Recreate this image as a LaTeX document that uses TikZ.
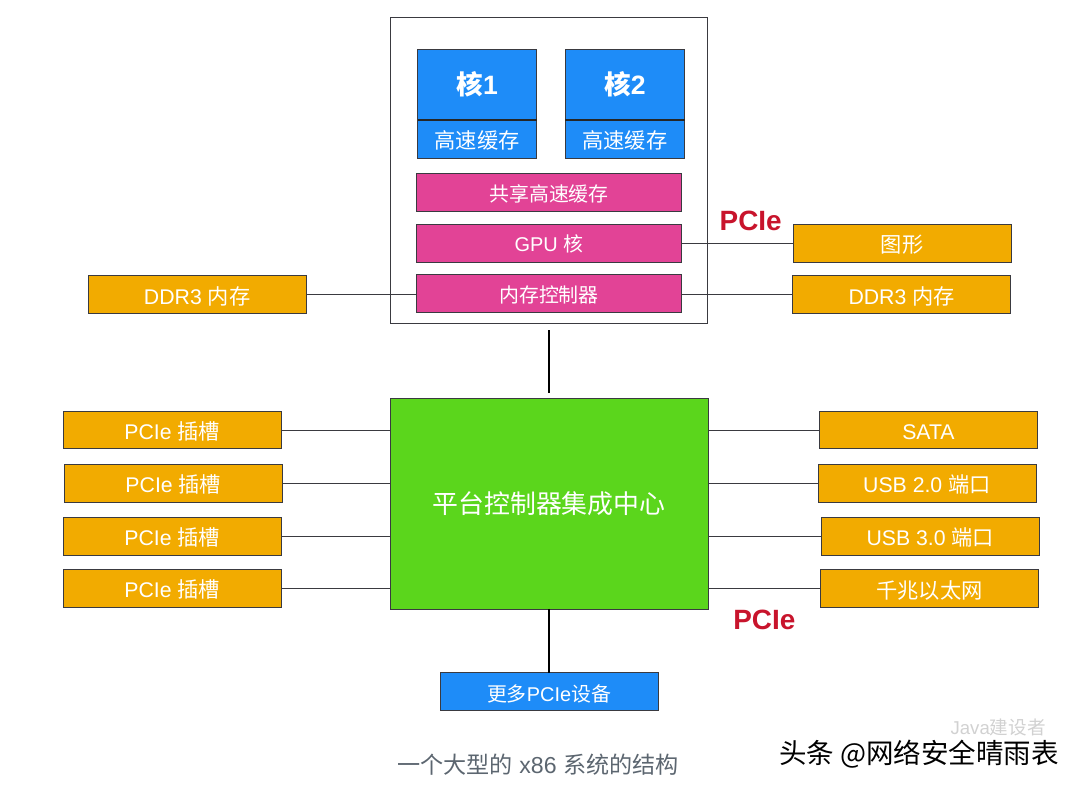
\documentclass[tikz,border=0pt]{standalone}
\usepackage{fontspec}
\setmainfont{Liberation Sans}
\newfontfamily\cjk{Noto Sans CJK SC}
\usetikzlibrary{positioning}
\definecolor{coreblue}{HTML}{1E8CF8}
\definecolor{sharepink}{HTML}{E24396}
\definecolor{portorange}{HTML}{F2AB00}
\definecolor{hubgreen}{HTML}{5BD61C}
\definecolor{edgedark}{HTML}{3A3A40}
\definecolor{capgray}{HTML}{5C6670}
\definecolor{pcired}{HTML}{C8142C}
\tikzstyle{box} = [rectangle, draw = edgedark, line width=0.6pt, inner sep=0pt, outer sep=0pt, text=white, text centered]
\tikzstyle{corebox} = [box, fill=coreblue, minimum width=3.15cm, minimum height=1.85cm, font=\fontsize{20}{22}\selectfont\bfseries]
\tikzstyle{cachebox} = [box, fill=coreblue, minimum width=3.15cm, minimum height=1.03cm, text height=14.5pt, text depth=0pt, font=\fontsize{16}{18}\selectfont]
\tikzstyle{sharebox} = [box, fill=sharepink, minimum width=7.01cm, minimum height=1.005cm, text height=13.1pt, text depth=0pt, font=\fontsize{15}{17}\selectfont]
\tikzstyle{portbox} = [box, fill=portorange, minimum width=5.77cm, minimum height=1.005cm, text height=14.5pt, text depth=0pt, font=\fontsize{16}{18}\selectfont]
\tikzstyle{link} = [edgedark, line width=0.6pt]
\tikzstyle{bus} = [black, line width=1.5pt]
\tikzstyle{split} = [black!85, line width=1.4pt]
\tikzstyle{pcielabel} = [text=pcired, inner sep=0pt, font=\fontsize{21}{23}\selectfont\bfseries]
\begin{document}
\begin{tikzpicture}

	\useasboundingbox (-14.526,13.322) rectangle (14.049,-7.554);

	\node (PCH) [box, fill=hubgreen, minimum width=8.41cm, minimum height=5.58cm, font=\fontsize{19.5}{22}\selectfont] {\cjk 平台控制器集成中心};

	\node (CPU) [rectangle, draw=edgedark, line width=0.8pt, fill=white, outer sep=0pt, inner sep=0pt, minimum width=8.39cm, minimum height=8.10cm, above = 1.98cm of PCH] {};

	\node (Mem) [sharebox, above = 0.28cm of CPU.south] {\cjk 内存控制器};
	\node (GPU) [sharebox, above = 0.33cm of Mem] {GPU {\cjk 核}};
	\node (Shared) [sharebox, above = 0.33cm of GPU] {\cjk 共享高速缓存};

	\node (CacheA) [cachebox, above right = 0.40cm and 0.03cm of Shared.north west] {\cjk 高速缓存};
	\node (CoreA) [corebox, above = 0cm of CacheA] {{\cjk 核}1};
	\node (CoreB) [corebox, right = 0.76cm of CoreA] {{\cjk 核}2};
	\node (CacheB) [cachebox, below = 0cm of CoreB] {\cjk 高速缓存};

	\node (DDRleft) [portbox, left = 2.92cm of Mem, yshift=-0.03cm] {DDR3 {\cjk 内存}};
	\node (DDRright) [portbox, right = 2.94cm of Mem, yshift=-0.03cm] {DDR3 {\cjk 内存}};
	\node (Gfx) [portbox, right = 2.95cm of GPU] {\cjk 图形};

	\node (SlotA) [portbox, below left = 0.34cm and 2.88cm of PCH.north west] {PCIe {\cjk 插槽}};
	\node (SlotB) [portbox, below = 0.40cm of SlotA, xshift=0.03cm] {PCIe {\cjk 插槽}};
	\node (SlotC) [portbox, below = 0.40cm of SlotB, xshift=-0.03cm] {PCIe {\cjk 插槽}};
	\node (SlotD) [portbox, below = 0.37cm of SlotC] {PCIe {\cjk 插槽}};

	\node (Sata) [portbox, below right = 0.34cm and 2.95cm of PCH.north east] {SATA};
	\node (UsbA) [portbox, below = 0.40cm of Sata, xshift=-0.04cm] {USB 2.0 {\cjk 端口}};
	\node (UsbB) [portbox, below = 0.40cm of UsbA, xshift=0.09cm] {USB 3.0 {\cjk 端口}};
	\node (Lan) [portbox, below = 0.39cm of UsbB, xshift=-0.02cm] {\cjk 千兆以太网};

	\node (More) [box, fill=coreblue, minimum width=5.77cm, minimum height=1.005cm, text height=14.6pt, text depth=0pt, font=\fontsize{15}{17}\selectfont, below = 1.69cm of PCH] {{\cjk 更多}PCIe{\cjk 设备}};

	\node (PCIeTop) [pcielabel, left = 0.29cm of Gfx.north west, yshift=0.1cm] {PCIe};
	\node (PCIeBot) [pcielabel, left = 0.66cm of Lan.south west, yshift=-0.32cm] {PCIe};

	\node (Caption) [below = 1.13cm of More, xshift=-0.29cm, text=capgray, inner sep=0pt, font=\fontsize{17.4}{19}\selectfont] {{\cjk 一个大型的} x86 {\cjk 系统的结构}};
	\node (Faint) [left = 0.3cm of Caption.east, xshift=10.01cm, yshift=0.98cm, inner sep=0pt, text=black!18, font=\fontsize{14}{16}\selectfont] {Java{\cjk 建设者}};
	\node (Mark) [left = 0.3cm of Caption.east, xshift=10.36cm, yshift=0.27cm, inner sep=0pt, font=\fontsize{20.7}{22}\selectfont] {\cjk 头条 @网络安全晴雨表};

	\draw [split] (CoreA.south west) -- (CoreA.south east);
	\draw [split] (CoreB.south west) -- (CoreB.south east);

	\draw [bus, shorten <=5.2pt, shorten >=3.8pt] (CPU.south) -- (PCH.north);
	\draw [bus] (PCH.south) -- (More.north);

	\draw [link] (DDRleft.east) -- (DDRleft.east -| Mem.west);
	\draw [link] (DDRright.west) -- (DDRright.west -| Mem.east);
	\draw [link] (GPU.east) -- (Gfx.west);

	\draw [link] (SlotA.east) -- (SlotA.east -| PCH.west);
	\draw [link] (SlotB.east) -- (SlotB.east -| PCH.west);
	\draw [link] (SlotC.east) -- (SlotC.east -| PCH.west);
	\draw [link] (SlotD.east) -- (SlotD.east -| PCH.west);

	\draw [link] (Sata.west) -- (Sata.west -| PCH.east);
	\draw [link] (UsbA.west) -- (UsbA.west -| PCH.east);
	\draw [link] (UsbB.west) -- (UsbB.west -| PCH.east);
	\draw [link] (Lan.west) -- (Lan.west -| PCH.east);

\end{tikzpicture}
\end{document}
